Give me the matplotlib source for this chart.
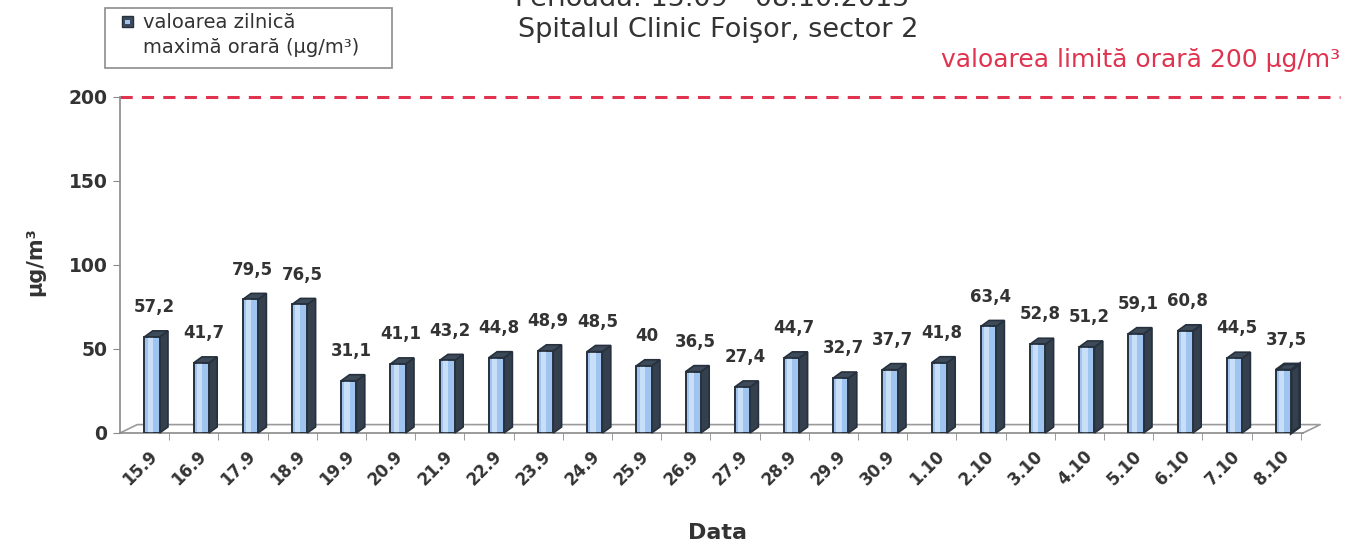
import matplotlib
matplotlib.use("Agg")
import matplotlib.pyplot as plt
import matplotlib.transforms as mtransforms
from matplotlib.patches import Polygon, Rectangle
import numpy as np

plt.rcParams['font.family'] = ['DejaVu Sans']

dates = ["15.9", "16.9", "17.9", "18.9", "19.9", "20.9", "21.9", "22.9", "23.9",
         "24.9", "25.9", "26.9", "27.9", "28.9", "29.9", "30.9", "1.10", "2.10",
         "3.10", "4.10", "5.10", "6.10", "7.10", "8.10"]
values = [57.2, 41.7, 79.5, 76.5, 31.1, 41.1, 43.2, 44.8, 48.9, 48.5, 40, 36.5,
          27.4, 44.7, 32.7, 37.7, 41.8, 63.4, 52.8, 51.2, 59.1, 60.8, 44.5, 37.5]
value_labels = ["57,2", "41,7", "79,5", "76,5", "31,1", "41,1", "43,2", "44,8", "48,9",
                "48,5", "40", "36,5", "27,4", "44,7", "32,7", "37,7", "41,8", "63,4",
                "52,8", "51,2", "59,1", "60,8", "44,5", "37,5"]
limit_value = 200
yticks = [0, 50, 100, 150, 200]

title_lines = ["Perioada: 15.09 - 08.10.2015", "Spitalul Clinic Foişor, sector 2"]
legend_text = "valoarea zilnică\nmaximă orară (µg/m³)"
limit_text = "valoarea limită orară 200 µg/m³"

W, H = 1345, 545
fig = plt.figure(figsize=(W / 100, H / 100), dpi=100)
ax_left, ax_right, ax_top, ax_bot = 120, 1303, 97, 433
ax = fig.add_axes([ax_left / W, 1 - ax_bot / H, (ax_right - ax_left) / W, (ax_bot - ax_top) / H])

n = len(values)
x = np.arange(n)
step = 49.2
xlim = ((ax_left - 152) / step, (ax_right - 152) / step)
ax.set_xlim(*xlim)
ax.set_ylim(0, 200)

text_col = "#333333"
dark = "#26313d"
front_col = "#9fc4f0"
hi_col = "#d4e6fb"

bw = 0.31
ddx = 0.17
ddy = 3.6

# floor
fdx, fdy = 0.35, 5.0
floor_col = "#9a9a9a"
ax.plot([xlim[0], xlim[0] + fdx, xlim[1] + fdx, xlim[1]], [0, fdy, fdy, 0],
        color=floor_col, lw=1.2, clip_on=False, zorder=1)

for i, v in enumerate(values):
    xl = x[i] - bw / 2
    xr = x[i] + bw / 2
    lw = 2.0 if i == n - 1 else 1.2
    side = Polygon([[xr, 0], [xr + ddx, ddy], [xr + ddx, v + ddy], [xr, v]],
                   closed=True, facecolor="#34404e", edgecolor=dark, lw=lw, zorder=3, clip_on=False)
    top = Polygon([[xl, v], [xl + ddx, v + ddy], [xr + ddx, v + ddy], [xr, v]],
                  closed=True, facecolor="#3d4a5a", edgecolor=dark, lw=lw, zorder=3, clip_on=False)
    ax.add_patch(side)
    ax.add_patch(top)
ax.bar(x, values, width=bw, color=front_col, edgecolor=dark, linewidth=1.2, zorder=4)
ax.bar(x - bw * 0.12, values, width=bw * 0.35, color=hi_col, edgecolor="none", zorder=5, alpha=0.8)
ax.bar(x, values, width=bw, color="none", edgecolor=dark, linewidth=1.2, zorder=6)

for i, v in enumerate(values):
    ax.annotate(value_labels[i], (x[i] + 0.05, v), xytext=(0, 15), textcoords="offset points",
                ha="center", va="bottom", fontsize=12, color=text_col, fontweight="bold")

# limit line
ax.plot([xlim[0], (1340 - 152) / step], [limit_value, limit_value], color="#e0334f",
        lw=2.2, dashes=(4, 3), clip_on=False, zorder=2)

# axes styling
for s in ["top", "right"]:
    ax.spines[s].set_visible(False)
ax.spines["left"].set_color("#8a8a8a")
ax.spines["bottom"].set_color("#8a8a8a")
ax.spines["left"].set_linewidth(1.2)
ax.spines["bottom"].set_linewidth(1.2)
ax.set_yticks(yticks)
ax.set_yticklabels([str(t) for t in yticks])
ax.tick_params(axis="y", length=5, color="#8a8a8a", labelsize=13.5, labelcolor=text_col, pad=4)
ax.set_xticks(x)
ax.set_xticklabels(dates, rotation=45, ha="right", va="top")
ax.tick_params(axis="x", which="major", length=0, labelsize=12, labelcolor=text_col, pad=10)
ax.set_xticks(x + 0.35, minor=True)
ax.tick_params(axis="x", which="minor", length=5, color="#8a8a8a")
off = mtransforms.ScaledTranslation(9 / 100, 0, fig.dpi_scale_trans)
for lab in ax.get_xticklabels():
    lab.set_transform(lab.get_transform() + off)
    lab.set_fontweight("bold")
for lab in ax.get_yticklabels():
    lab.set_fontweight("bold")

fig.text(35 / W, 1 - 262 / H, "µg/m³", rotation=90, ha="center", va="center",
         fontsize=15, color=text_col, fontweight="bold")
fig.text(718 / W, 1 - 533 / H, "Data", ha="center", va="center", fontsize=16,
         color=text_col, fontweight="bold")

# title
fig.text(712 / W, 1 - 6 / H, title_lines[0], ha="center", va="baseline", fontsize=19.5, color=text_col)
fig.text(718 / W, 1 - 37 / H, title_lines[1], ha="center", va="baseline", fontsize=19.5, color=text_col)

# limit label
fig.text(1340 / W, 1 - 60 / H, limit_text, ha="right", va="center", fontsize=18, color="#e0334f")

# legend box
fig.patches.append(Rectangle((105 / W, 1 - 68 / H), (392 - 105) / W, (68 - 8) / H,
                             transform=fig.transFigure, facecolor="white", edgecolor="#8c8c8c", lw=1.2))
fig.patches.append(Rectangle((122 / W, 1 - 27 / H), 11 / W, 11 / H, transform=fig.transFigure,
                             facecolor="#3d4a5a", edgecolor=dark, lw=1))
fig.patches.append(Rectangle((125 / W, 1 - 24 / H), 5 / W, 4 / H, transform=fig.transFigure,
                             facecolor=front_col, edgecolor="none"))
fig.text(143 / W, 1 - 35 / H, legend_text, ha="left", va="center", fontsize=14, color=text_col,
         linespacing=1.4)

fig.savefig("out.png", dpi=100)
